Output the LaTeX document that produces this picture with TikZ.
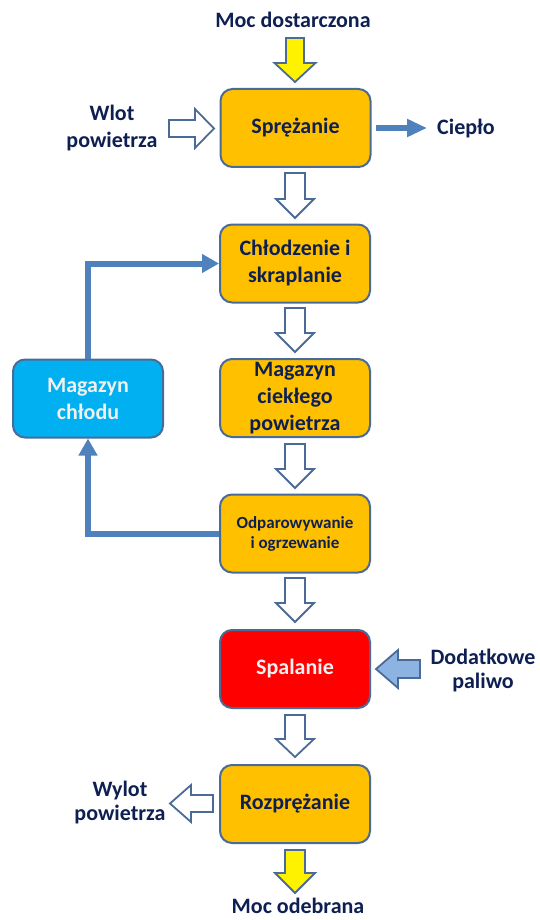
\documentclass[tikz,border=0pt]{standalone}
\usepackage{fontspec}
\setmainfont{Carlito}
\usetikzlibrary{arrows.meta}
\definecolor{navy}{HTML}{0E1F52}
\definecolor{edgec}{HTML}{4A6B98}
\definecolor{orangebox}{HTML}{FFC000}
\definecolor{coolbox}{HTML}{00B0F0}
\definecolor{loopc}{HTML}{4F81BD}
\definecolor{fuelc}{HTML}{8DB3E2}
\definecolor{lighttext}{HTML}{F0F0F0}
% #1 style, #2 x, #3 y, #4 rotation, #5 length, #6 head length, #7 shaft half, #8 head half
\newcommand\barrow[8]{%
  \draw[#1, shift={(#2,#3)}, rotate=#4]
    (0,#7) -- (#5-#6,#7) -- (#5-#6,#8) -- (#5,0) -- (#5-#6,-#8) -- (#5-#6,-#7) -- (0,-#7) -- cycle;}
\begin{document}
\begin{tikzpicture}[x=1pt,y=-1pt,
  box/.style={draw=edgec, line width=2pt, rounded corners=12pt, minimum width=150pt,
    minimum height=78pt, align=center, inner sep=2pt, text=navy,
    font=\fontsize{22}{27}\selectfont\bfseries},
  lbl/.style={text=navy, align=center, inner sep=0pt, font=\fontsize{22}{26}\selectfont\bfseries},
  hollow/.style={draw=edgec, line width=1.8pt, fill=white, line join=miter},
  yellowar/.style={draw=edgec, line width=1.8pt, fill=yellow},
  fuelar/.style={draw=edgec, line width=1.8pt, fill=fuelc},
  loopline/.style={draw=loopc, line width=6pt, -{Triangle[length=17pt,width=18pt]}}]
\useasboundingbox (0,0) rectangle (539,920);

% boxes
\node[box, fill=orangebox] (comp) at (295.5,128) {Sprężanie};
\node[box, fill=orangebox] (cond) at (295,263.5) {Chłodzenie i\\skraplanie};
\node[box, fill=orangebox, font=\fontsize{22}{27}\selectfont\bfseries] (liq) at (295,398) {Magazyn\\ciekłego\\powietrza};
\node[box, fill=orangebox, font=\fontsize{17}{20}\selectfont\bfseries] (evap) at (295,533.5) {Odparowywanie\\i ogrzewanie};
\node[box, fill=red, text=lighttext] (burn) at (295,669) {Spalanie};
\node[box, fill=orangebox] (exp) at (295,804) {Rozprężanie};
\node[box, fill=coolbox, text=lighttext] (store) at (88,398.5) {Magazyn\\chłodu};

% labels
\node[lbl] (pin) at (293,20) {Moc dostarczona};
\node[lbl, font=\fontsize{22}{27}\selectfont\bfseries] (air) at (112,128) {Wlot\\powietrza};
\node[lbl] (heat) at (466,129) {Ciepło};
\node[lbl, font=\fontsize{22}{24}\selectfont\bfseries] (fuel) at (483,671) {Dodatkowe\\paliwo};
\node[lbl, font=\fontsize{22}{24}\selectfont\bfseries] (out) at (120,803) {Wylot\\powietrza};
\node[lbl] (pout) at (298,906) {Moc odebrana};

% yellow power arrows
\barrow{yellowar}{295}{38}{-90}{44}{19}{9}{20.5}
\barrow{yellowar}{295}{850}{-90}{43}{20}{10}{20}

% hollow flow arrows between boxes
\barrow{hollow}{295}{173}{-90}{45}{19}{10}{19}
\barrow{hollow}{295}{308}{-90}{44}{19}{10}{19}
\barrow{hollow}{295}{444}{-90}{44}{19}{10}{19}
\barrow{hollow}{295}{578}{-90}{44}{19}{10}{19}
\barrow{hollow}{295}{715}{-90}{42}{18}{10}{19}

% side arrows
\barrow{hollow}{169}{128.5}{0}{45}{19}{8.5}{19.5}
\barrow{fuelar}{420}{669}{180}{44}{22}{9}{19}
\barrow{hollow}{213}{803.5}{180}{43}{21}{8.5}{18.5}

% heat arrow
\coordinate (heatend) at ([xshift=-10pt]comp.east -| heat.west);
\draw[draw=loopc, line width=6pt, -{Triangle[length=20pt,width=17pt]}] ([xshift=4pt]comp.east) -- (heatend);

% cold loop
\draw[loopline] (store.north) |- (cond.west);
\draw[loopline] (evap.west) -| (store.south);
\end{tikzpicture}
\end{document}
